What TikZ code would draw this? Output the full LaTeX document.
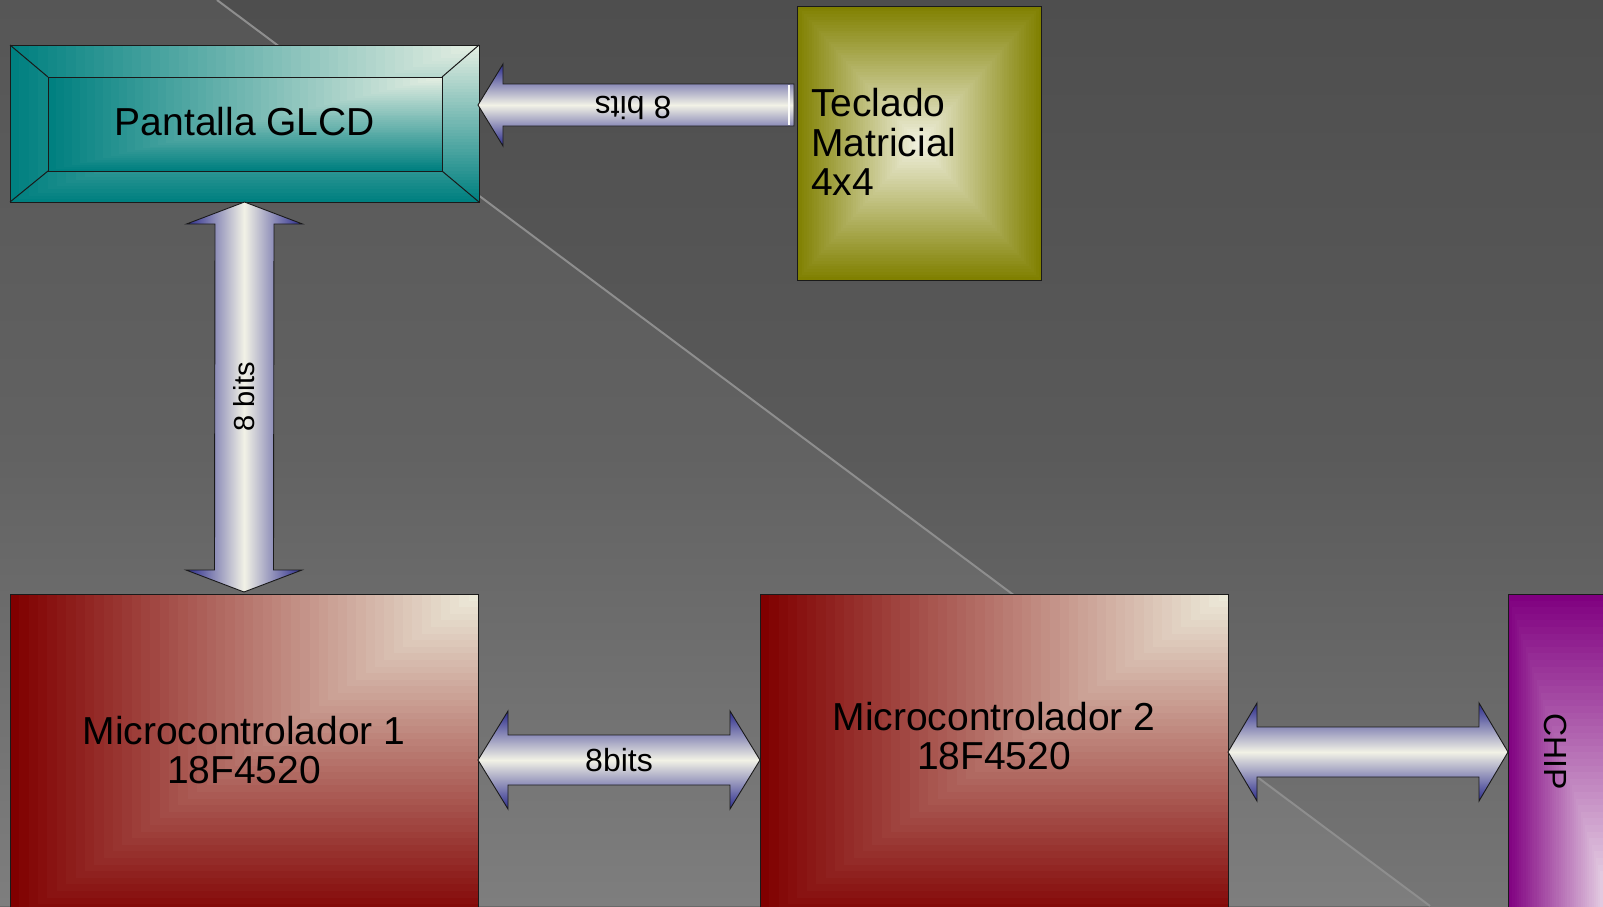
\documentclass[tikz,border=0pt]{standalone}
\usepackage{fontspec}
\setmainfont{Liberation Sans}
\usetikzlibrary{calc}

\definecolor{bgTopA}{HTML}{4E4E4E}
\definecolor{bgMidA}{HTML}{5A5A5A}
\definecolor{bgBotA}{HTML}{767676}
\definecolor{bgTopB}{HTML}{565656}
\definecolor{bgMidB}{HTML}{626262}
\definecolor{bgBotB}{HTML}{7E7E7E}
\definecolor{diagLine}{HTML}{8E8E8E}
\definecolor{tealDark}{HTML}{008080}
\definecolor{tealLight}{HTML}{E4EEE2}
\definecolor{redDark}{HTML}{800000}
\definecolor{redLight}{HTML}{ECE9D8}
\definecolor{oliveDark}{HTML}{808000}
\definecolor{oliveLight}{HTML}{F0F0DE}
\definecolor{purpDark}{HTML}{800080}
\definecolor{purpLight}{HTML}{F2EAF0}
\definecolor{arrowDark}{HTML}{2A2A8C}
\definecolor{arrowLight}{HTML}{F2F2E6}
\definecolor{edgeCol}{HTML}{1A1A1A}

% gradient from a corner (#1) of the path box toward the opposite corner (#2)
\newcommand\cornerfill[4]{%
  \foreach \k in {0,...,49}{%
    \pgfmathsetmacro\gT{1-\k/50}%
    \pgfmathsetmacro\gP{100*\k/49}%
    \fill[fill=#4!\gP!#3] (path picture bounding box.#1) rectangle
      ($(path picture bounding box.#1)!\gT!(path picture bounding box.#2)$);
  }}
% rectangular gradient from the centre
\newcommand\centerfill[2]{%
  \foreach \k in {0,...,49}{%
    \pgfmathsetmacro\gT{1-\k/50}%
    \pgfmathsetmacro\gP{100*\k/49}%
    \fill[fill=#2!\gP!#1]
      ($(path picture bounding box.center)!\gT!(path picture bounding box.north west)$) rectangle
      ($(path picture bounding box.center)!\gT!(path picture bounding box.south east)$);
  }}

\newcommand\hdarrow[5]{% left tip, right tip, half shaft, half head, head length
  \draw[harrow] (#1) -- ($(#1)+(#5,-#4)$) -- ($(#1)+(#5,-#3)$) -- ($(#2)+(-#5,-#3)$)
    -- ($(#2)+(-#5,-#4)$) -- (#2) -- ($(#2)+(-#5,#4)$) -- ($(#2)+(-#5,#3)$)
    -- ($(#1)+(#5,#3)$) -- ($(#1)+(#5,#4)$) -- cycle;}
\newcommand\vdarrow[5]{% top tip, bottom tip, half shaft, half head, head length
  \draw[varrow] (#1) -- ($(#1)+(#4,#5)$) -- ($(#1)+(#3,#5)$) -- ($(#2)+(#3,-#5)$)
    -- ($(#2)+(#4,-#5)$) -- (#2) -- ($(#2)+(-#4,-#5)$) -- ($(#2)+(-#3,-#5)$)
    -- ($(#1)+(-#3,#5)$) -- ($(#1)+(-#4,#5)$) -- cycle;}
\newcommand\hsarrow[5]{% tip (left), tail (right), half shaft, half head, head length
  \draw[harrow] (#1) -- ($(#1)+(#5,-#4)$) -- ($(#1)+(#5,-#3)$) -- ($(#2)+(0,-#3)$)
    -- ($(#2)+(0,#3)$) -- ($(#1)+(#5,#3)$) -- ($(#1)+(#5,#4)$) -- cycle;}

\tikzset{
  boxedge/.style={draw=edgeCol, line width=1pt, inner sep=0pt, outer sep=0pt,
    rectangle, anchor=north west},
  redbox/.style={boxedge, path picture={\cornerfill{north east}{south west}{redDark}{redLight}}},
  tealbox/.style={boxedge, path picture={\cornerfill{north east}{south west}{tealDark}{tealLight}}},
  purpbox/.style={boxedge, path picture={\cornerfill{south east}{north west}{purpDark}{purpLight}}},
  olivebox/.style={boxedge, path picture={\centerfill{oliveDark}{oliveLight}}},
  bevel/.style={draw=edgeCol, line width=1pt},
  bigtxt/.style={font=\fontsize{39}{39.5}\selectfont, inner sep=0pt, text=black},
  midtxt/.style={font=\fontsize{32}{32}\selectfont, inner sep=0pt, text=black},
  smalltxt/.style={font=\fontsize{29}{29}\selectfont, inner sep=0pt, text=black},
  harrow/.style={draw=edgeCol, line width=0.9pt, line join=miter,
    top color=arrowDark, bottom color=arrowDark, middle color=arrowLight},
  varrow/.style={draw=edgeCol, line width=0.9pt, line join=miter,
    left color=arrowDark, right color=arrowDark, middle color=arrowLight},
}

\begin{document}
\begin{tikzpicture}[x=1pt, y=-1pt]
\useasboundingbox (0,0) rectangle (1603,906);
\begin{scope}
\clip (0,0) rectangle (1603,906);
% background
\fill[top color=bgTopA, bottom color=bgBotA, middle color=bgMidA] (0,0) rectangle (1603,906);
\fill[top color=bgTopB, bottom color=bgBotB, middle color=bgMidB] (0,0) -- (217,0) -- (1430,906) -- (0,906) -- cycle;
\draw[diagLine, line width=2pt] (217,0) -- (1430,906);

% boxes
\node[tealbox, minimum width=469pt, minimum height=157pt] (glcd) at (10,45) {};
\node[tealbox, minimum width=394pt, minimum height=94pt] (glcdin) at (48,77) {};
\node[bigtxt] (glcdt) at ($(glcdin.center)+(0,-2)$) {Pantalla GLCD};
\draw[bevel] (glcd.north west) -- (glcdin.north west);
\draw[bevel] (glcd.north east) -- (glcdin.north east);
\draw[bevel] (glcd.south west) -- (glcdin.south west);
\draw[bevel] (glcd.south east) -- (glcdin.south east);

\node[olivebox, minimum width=244pt, minimum height=274pt] (tec) at (797,6) {};
\node[bigtxt, align=left, anchor=west] (tect) at ($(tec.north west)+(14,136)$) {Teclado\\Matricial\\4x4};

\node[redbox, minimum width=468pt, minimum height=330pt] (m1) at (10,594) {};
\node[bigtxt, align=center] (m1t) at ($(m1.north)+(0,156)$) {Microcontrolador 1\\18F4520};

\node[redbox, minimum width=468pt, minimum height=330pt] (m2) at (760,594) {};
\node[bigtxt, align=center] (m2t) at ($(m2.north)+(0,142)$) {Microcontrolador 2\\18F4520};

\node[purpbox, minimum width=110pt, minimum height=330pt] (chip) at (1508,594) {};
\node[midtxt, rotate=-90] (chipt) at ($(chip.north west)+(47,158)$) {CHIP};

% connectors
\coordinate (ta) at ($(glcd.north east)+(-1,60)$);
\coordinate (tb) at ($(tec.north west)+(-3,99)$);
\hsarrow{ta}{tb}{21}{41}{25}
\draw[white!80!arrowLight, line width=1.2pt] ($(tb)+(-5,-20)$) -- ($(tb)+(-5,20)$);
\node[midtxt, rotate=180] (tlab) at ($(ta)!0.5!(tb)+(-3,3)$) {8 bits};

\coordinate (va) at (glcd.south);
\coordinate (vb) at ($(m1.north)+(0,-2)$);
\vdarrow{va}{vb}{29.5}{58}{22}
\node[smalltxt, rotate=90] (vlab) at ($(va)!0.5!(vb)$) {8 bits};

\coordinate (ba) at ($(m1.north east)+(0,166)$);
\coordinate (bb) at ($(m2.north west)+(0,166)$);
\hdarrow{ba}{bb}{25}{49}{30}
\node[midtxt] (blab) at ($(ba)!0.5!(bb)$) {8bits};

\coordinate (ca) at ($(m2.north east)+(0,158)$);
\coordinate (cb) at ($(chip.north west)+(0,158)$);
\hdarrow{ca}{cb}{25}{49}{29}
\end{scope}
\end{tikzpicture}
\end{document}
